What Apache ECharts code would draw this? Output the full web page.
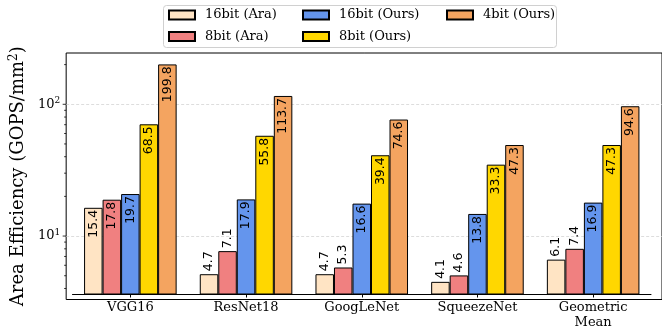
<!DOCTYPE html>
<html><head><meta charset="utf-8">
<script src="https://cdn.jsdelivr.net/npm/echarts@6/dist/echarts.min.js"></script>
<style>html,body{margin:0;padding:0;background:#fff}#chart{width:662px;height:330px}</style>
</head><body><div id="chart"></div>
<script>
// Area efficiency per network, log scale
const categories = ['VGG16', 'ResNet18', 'GoogLeNet', 'SqueezeNet', 'Geometric\nMean'];
const ara16 = [15.4, 4.7, 4.7, 4.1, 6.1];
const ara8 = [17.8, 7.1, 5.3, 4.6, 7.4];
const ours16 = [19.7, 17.9, 16.6, 13.8, 16.9];
const ours8 = [68.5, 55.8, 39.4, 33.3, 47.3];
const ours4 = [199.8, 113.7, 74.6, 47.3, 94.6];
const seriesNames = ['16bit (Ara)', '8bit (Ara)', '16bit (Ours)', '8bit (Ours)', '4bit (Ours)'];
const majorTicks = [10, 100];
const minorTicks = [4, 5, 6, 7, 8, 9, 20, 30, 40, 50, 60, 70, 80, 90, 200];
const yMin = 3.3, yMax = 245;

const colors = ['#FFE4C4', '#F08080', '#6495ED', '#FFD700', '#F4A460'];
const serif = '"DejaVu Serif", serif';
const sans = '"DejaVu Sans", sans-serif';

const labelBase = {
  show: true, rotate: 90, verticalAlign: 'middle',
  fontFamily: sans, fontSize: 12.5, color: '#000',
  formatter: p => p.value.toFixed(1)
};
const insideLabel = Object.assign({}, labelBase, { position: 'insideTop', align: 'right', distance: 2 });
const aboveLabel = Object.assign({}, labelBase, { position: 'top', align: 'left', distance: 3 });

function barData(values) {
  return values.map(v => ({ value: v, label: v >= 10 ? insideLabel : aboveLabel }));
}

const groups = [ara16, ara8, ours16, ours8, ours4];
const barSeries = groups.map((vals, i) => ({
  name: seriesNames[i],
  type: 'bar',
  xAxisIndex: 1, yAxisIndex: 1,
  data: barData(vals),
  barGap: '0%', barCategoryGap: '20%',
  itemStyle: { color: colors[i], borderColor: '#000', borderWidth: 1 },
  emphasis: { disabled: true }
}));

const tickData = minorTicks.map(v => [0, v, 2]).concat(majorTicks.map(v => [0, v, 3.5]));

const legendCommon = {
  orient: 'vertical', top: 8, padding: 0, itemGap: 7.5,
  itemWidth: 26, itemHeight: 9, icon: 'rect',
  textStyle: { fontFamily: serif, fontSize: 13, color: '#000', lineHeight: 14, padding: [0, 0, 0, 5] },
  selectedMode: false
};

const chart = echarts.init(document.getElementById('chart'), null, { renderer: 'canvas' });
chart.setOption({
  animation: false,
  backgroundColor: '#fff',
  graphic: [{
    type: 'rect', left: 163, top: 5, z: -1,
    shape: { width: 393, height: 42, r: 3 },
    style: { fill: '#fff', stroke: '#d0d0d0', lineWidth: 1 }
  }],
  legend: [
    Object.assign({}, legendCommon, { left: 168, data: [seriesNames[0], seriesNames[1]] }),
    Object.assign({}, legendCommon, { left: 302, data: [seriesNames[2], seriesNames[3]] }),
    Object.assign({}, legendCommon, { left: 446, data: [seriesNames[4]] })
  ],
  grid: [
    { left: 56, right: -5, top: 53, bottom: 30.5, show: true, borderColor: '#000', borderWidth: 1, backgroundColor: 'transparent' },
    { left: 72.5, right: 11, top: 53, bottom: 30.5 }
  ],
  xAxis: [
    { type: 'value', gridIndex: 0, min: 0, max: 1, show: false },
    {
      type: 'category', gridIndex: 1, data: categories,
      axisLine: { show: true, lineStyle: { color: '#000', width: 1 } },
      axisTick: { show: true, alignWithLabel: true, length: 3.5, lineStyle: { color: '#000' } },
      axisLabel: { fontFamily: serif, fontSize: 13, color: '#000', margin: 6, lineHeight: 15 }
    }
  ],
  yAxis: [
    {
      type: 'log', logBase: 10, gridIndex: 0, min: yMin, max: yMax,
      name: 'Area Efficiency (GOPS/mm{sup|2})',
      nameLocation: 'middle', nameGap: 30,
      nameTextStyle: {
        fontFamily: serif, fontSize: 18, color: '#000',
        rich: { sup: { fontFamily: serif, fontSize: 12, color: '#000', verticalAlign: 'top', padding: [0, 0, 8, 0] } }
      },
      axisLine: { show: false },
      axisTick: { show: false },
      axisLabel: {
        showMinLabel: false, showMaxLabel: false, margin: 6,
        fontFamily: serif, fontSize: 13, color: '#000',
        formatter: v => {
          const e = Math.round(Math.log10(v));
          if (Math.abs(Math.log10(v) - e) > 1e-6) return '';
          return '10{sup|' + e + '}';
        },
        rich: { sup: { fontFamily: serif, fontSize: 9, color: '#000', padding: [0, 0, 7, 0] } }
      },
      splitLine: { show: true, showMinLine: false, showMaxLine: false, lineStyle: { color: '#d4d4d4', type: [3, 2], width: 0.8 } }
    },
    { type: 'log', logBase: 10, gridIndex: 1, min: yMin, max: yMax, show: false }
  ],
  series: barSeries.concat([{
    type: 'custom', xAxisIndex: 0, yAxisIndex: 0, silent: true, clip: false,
    data: tickData,
    renderItem: (params, api) => {
      const p = api.coord([0, api.value(1)]);
      const len = api.value(2);
      return { type: 'line', shape: { x1: p[0] - len, y1: p[1], x2: p[0], y2: p[1] }, style: { stroke: '#000', lineWidth: 0.8 } };
    }
  }])
});
</script>
</body></html>
